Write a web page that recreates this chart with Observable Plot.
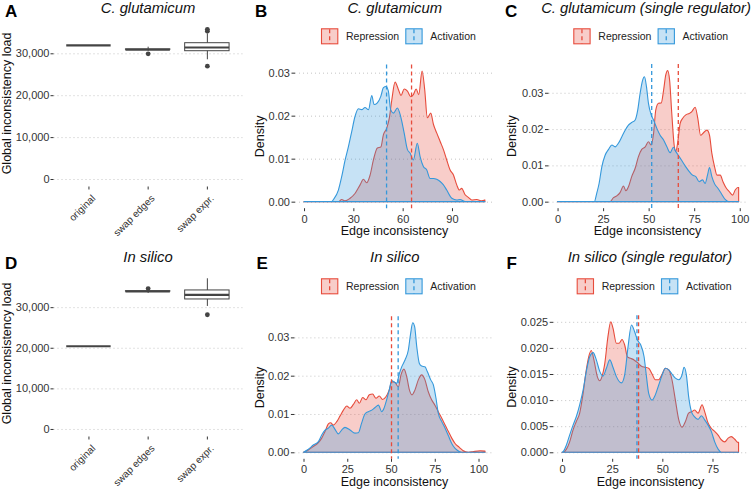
<!DOCTYPE html>
<html><head><meta charset="utf-8">
<script src="https://cdn.jsdelivr.net/npm/d3@7"></script>
<script src="https://cdn.jsdelivr.net/npm/@observablehq/plot@0.6"></script>
<style>
body{margin:0;background:#fff;}
#root{position:relative;width:752px;height:490px;overflow:hidden;background:#fff;}
.panel{position:absolute;}
#overlay{position:absolute;left:0;top:0;pointer-events:none;}
</style></head><body><div id="root"></div>
<script>
// ---------- data ----------
const boxCats = ["original", "swap edges", "swap expr."];
const A_q1  = [32000, 30950, 30620];
const A_med = [32000, 31000, 31500];
const A_q3  = [32000, 31050, 32530];
const A_lo  = [32000, 30600, 28570];
const A_hi  = [32000, 31580, 34770];
const A_out = [[2, 30000], [3, 35400], [3, 35850], [3, 27050]];

const D_q1  = [20500, 33950, 32020];
const D_med = [20500, 34000, 33170];
const D_q3  = [20500, 34050, 34240];
const D_lo  = [20500, 33500, 30300];
const D_hi  = [20500, 34100, 37110];
const D_out = [[2, 34700], [3, 28250]];

const B_act = [[0,0],[16.8,0],[17.9,.0005],[20.9,.0027],[22.9,.0058],[25.0,.0097],[27.0,.0128],[29.0,.0163],[31.0,.0198],[33.1,.0216],[35.1,.0214],[37.1,.0219],[39.2,.0214],[41.2,.0247],[42.6,.0226],[44.6,.0230],[46.7,.0245],[48.3,.0265],[49.9,.0268],[51.3,.0257],[52.7,.0214],[54.4,.0206],[56.8,.0218],[58.8,.0198],[60.9,.0160],[62.9,.0121],[64.5,.0113],[66.5,.0097],[68.9,.0136],[70.6,.0105],[72.6,.0082],[74.6,.0074],[76.7,.0054],[78.7,.0054],[80.7,.0052],[82.8,.0047],[84.8,.0039],[86.8,.0027],[89.9,.0008],[92.9,.0004],[94.9,.0005],[98.0,0],[110,0]];
const B_rep = [[0,0],[20.9,0],[22.9,.0005],[25.0,.0002],[28.0,.0008],[31.0,.0019],[34.1,.0039],[36.1,.0052],[38.1,.0044],[40.2,.0062],[42.2,.0097],[44.6,.0125],[46.7,.0127],[48.3,.0156],[50.3,.0171],[51.9,.0195],[53.4,.0237],[55.4,.0278],[57.4,.0261],[59.0,.0247],[60.9,.0262],[62.9,.0257],[64.9,.0244],[66.5,.0249],[68.2,.0262],[69.8,.0249],[71.8,.0304],[73.4,.0261],[75.0,.0195],[77.1,.0206],[78.7,.0180],[80.7,.0160],[82.8,.0140],[84.8,.0121],[86.8,.0097],[88.8,.0074],[90.9,.0062],[92.9,.0039],[94.5,.0027],[95.9,.0031],[98.0,.0016],[100.0,.0010],[102.0,.0004],[105.1,.0005],[108.1,.0002],[110,.0004]];

const C_act = [[0,0],[20.2,0],[21.5,.0023],[22.8,.0050],[24.3,.0096],[26.1,.0128],[28.0,.0144],[29.8,.0156],[31.6,.0151],[33.4,.0161],[35.3,.0179],[37.1,.0197],[38.9,.0211],[40.7,.0218],[42.6,.0225],[44.0,.0252],[45.3,.0298],[46.6,.0333],[47.7,.0344],[48.8,.0317],[49.9,.0271],[51.4,.0239],[52.7,.0225],[54.5,.0202],[56.3,.0183],[58.2,.0170],[60.0,.0151],[61.8,.0135],[63.6,.0150],[64.9,.0138],[66.8,.0124],[68.6,.0110],[70.4,.0096],[72.3,.0083],[74.1,.0073],[75.9,.0069],[77.7,.0055],[79.6,.0060],[81.0,.0050],[82.3,.0073],[83.4,.0094],[84.7,.0069],[86.2,.0049],[88.0,.0037],[89.8,.0023],[92.0,.0006],[93.9,0],[99.4,0]];
const C_rep = [[0,0],[28.8,0],[30.7,.0011],[32.5,.0016],[34.3,.0025],[36.2,.0043],[37.5,.0030],[38.9,.0041],[40.7,.0069],[42.6,.0092],[44.4,.0124],[46.2,.0144],[48.1,.0151],[49.9,.0165],[51.4,.0156],[52.7,.0188],[53.9,.0252],[55.4,.0271],[56.9,.0272],[58.2,.0307],[59.4,.0349],[60.4,.0361],[61.5,.0335],[62.7,.0243],[64.0,.0156],[64.9,.0138],[66.0,.0165],[67.3,.0216],[68.6,.0229],[70.4,.0239],[72.3,.0243],[73.7,.0248],[75.5,.0260],[77.0,.0229],[78.5,.0183],[80.1,.0190],[82.0,.0197],[83.4,.0183],[84.7,.0133],[86.2,.0096],[87.5,.0073],[89.3,.0073],[90.8,.0055],[92.4,.0039],[94.2,.0028],[96.1,.0018],[97.5,.0032],[99.0,.0039],[99.4,.0039]];

const E_act = [[0,0],[2.8,.0008],[5.6,.0019],[8.5,.0028],[10.4,.0045],[12.3,.0058],[14.2,.0063],[16.1,.0071],[18.0,.0060],[19.9,.0048],[21.8,.0058],[23.7,.0065],[26.6,.0058],[29.4,.0050],[31.3,.0051],[33.2,.0076],[35.1,.0100],[37.0,.0106],[39.0,.0110],[40.9,.0117],[42.8,.0123],[44.7,.0106],[46.0,.0115],[47.5,.0137],[49.0,.0163],[50.4,.0187],[51.7,.0184],[53.2,.0180],[54.8,.0206],[56.1,.0223],[58.0,.0241],[59.9,.0267],[61.2,.0310],[62.4,.0338],[63.5,.0328],[64.7,.0276],[66.2,.0232],[67.5,.0225],[69.4,.0223],[70.8,.0210],[72.7,.0189],[74.2,.0176],[75.7,.0141],[77.0,.0102],[79.0,.0080],[80.9,.0063],[82.8,.0043],[84.7,.0023],[86.6,.0010],[89.0,.0002],[90.4,0],[103.7,0]];
const E_rep = [[0,0],[2.8,.0006],[5.6,.0015],[8.5,.0025],[10.4,.0037],[12.3,.0054],[14.2,.0074],[15.5,.0077],[17.0,.0071],[19.0,.0080],[20.9,.0095],[22.8,.0110],[24.7,.0121],[26.6,.0115],[28.5,.0125],[30.4,.0137],[31.9,.0128],[33.8,.0143],[35.7,.0137],[37.6,.0150],[39.5,.0152],[41.4,.0141],[43.3,.0147],[45.2,.0138],[47.1,.0145],[49.0,.0163],[50.4,.0184],[52.3,.0182],[54.2,.0171],[55.7,.0202],[57.4,.0217],[59.0,.0197],[60.5,.0163],[62.0,.0150],[63.7,.0163],[65.6,.0189],[67.5,.0202],[69.4,.0189],[71.3,.0158],[73.2,.0137],[75.1,.0123],[77.0,.0106],[79.0,.0089],[80.9,.0071],[82.8,.0054],[84.7,.0037],[86.6,.0023],[89.0,.0013],[91.3,.0004],[94.2,0],[97.0,.0002],[100.9,.0004],[103.7,.0003]];

const F_act = [[0,0],[0.5,.0001],[2.2,.0014],[3.8,.0033],[5.5,.0052],[7.1,.0068],[8.8,.0091],[10.5,.0119],[12.1,.0155],[13.8,.0183],[15.5,.0191],[17.1,.0177],[18.8,.0155],[20.4,.0146],[22.1,.0161],[23.8,.0177],[25.4,.0163],[27.1,.0145],[29.6,.0133],[31.2,.0148],[32.9,.0202],[34.6,.0244],[36.2,.0231],[37.6,.0215],[39.2,.0206],[40.9,.0183],[42.0,.0148],[43.2,.0113],[44.9,.0100],[46.5,.0110],[48.2,.0129],[49.9,.0148],[51.5,.0161],[53.2,.0158],[54.8,.0150],[56.5,.0142],[58.2,.0139],[59.8,.0148],[60.8,.0163],[62.0,.0148],[63.1,.0107],[64.5,.0078],[66.1,.0068],[67.8,.0063],[69.5,.0070],[71.1,.0062],[72.8,.0052],[74.4,.0040],[76.1,.0020],[77.8,.0006],[79.4,0],[88,0]];
const F_rep = [[0,0],[0.5,0],[2.2,.0006],[3.8,.0020],[5.5,.0043],[7.1,.0059],[8.8,.0075],[10.5,.0113],[12.1,.0158],[13.3,.0183],[14.6,.0195],[15.9,.0177],[17.6,.0145],[18.8,.0137],[19.9,.0145],[21.3,.0170],[22.9,.0222],[24.3,.0250],[25.4,.0238],[27.1,.0209],[28.4,.0209],[29.9,.0216],[31.2,.0206],[32.6,.0183],[34.2,.0180],[35.9,.0177],[37.6,.0172],[39.6,.0165],[41.5,.0163],[43.2,.0161],[44.9,.0150],[46.5,.0139],[48.2,.0139],[49.9,.0150],[51.5,.0161],[53.2,.0158],[54.8,.0139],[56.5,.0100],[58.2,.0062],[59.8,.0048],[61.5,.0059],[63.1,.0075],[64.8,.0078],[66.1,.0081],[67.8,.0075],[69.8,.0091],[71.1,.0078],[72.8,.0056],[74.4,.0046],[76.1,.0040],[77.8,.0033],[79.4,.0024],[81.1,.0020],[82.8,.0027],[84.4,.0030],[86.1,.0025],[87.7,.0019],[88.0,.0019]];

// dashed vertical reference lines [Repression, Activation]
const B_means = [65.1, 49.9];
const C_means = [66.0, 51.4];
const E_means = [50.0, 53.8];
const F_means = [37.9, 37.1];

// ticks
const boxYTicks = [0, 10000, 20000, 30000];
const B_xTicks = [0, 30, 60, 90];
const C_xTicks = [0, 25, 50, 75, 100];
const E_xTicks = [0, 25, 50, 75, 100];
const F_xTicks = [0, 25, 50, 75];
const dens3Ticks = [0, 0.01, 0.02, 0.03];
const F_yTicks = [0, 0.005, 0.01, 0.015, 0.02, 0.025];

const titles = ["C. glutamicum", "C. glutamicum", "C. glutamicum (single regulator)", "In silico", "In silico", "In silico (single regulator)"];
const letters = ["A", "B", "C", "D", "E", "F"];
const seriesNames = ["Repression", "Activation"];

// ---------- drawing ----------
const FONT = '"Liberation Sans", Arial, Helvetica, sans-serif';
const RED = "#E74C3C", BLUE = "#3498DB", BOXC = "#444444", GRID = "#c4c4c4";
const root = document.getElementById("root");

function place(svg, left, top) {
  const d = document.createElement("div");
  d.className = "panel";
  d.style.left = left + "px"; d.style.top = top + "px";
  d.appendChild(svg); root.appendChild(d);
}
const baseStyle = {fontFamily: FONT, fontSize: "11px", color: "#333", background: "transparent", overflow: "visible"};
const toRec = a => a.map(([x, y]) => ({x, y}));

function densityPanel(g) {
  return Plot.plot({
    width: g.w, height: 245,
    marginLeft: g.ml, marginRight: g.mr, marginTop: g.mt, marginBottom: g.mb,
    style: baseStyle,
    x: {domain: g.xd, label: null},
    y: {domain: g.yd, label: null},
    marks: [
      Plot.gridY(g.yt, {stroke: GRID, strokeOpacity: 1, strokeWidth: 1, strokeDasharray: "1,3"}),
      Plot.areaY(toRec(g.rep), {x: "x", y: "y", fill: RED, fillOpacity: 0.28, stroke: RED, strokeWidth: 1.1, curve: "monotone-x"}),
      Plot.areaY(toRec(g.act), {x: "x", y: "y", fill: BLUE, fillOpacity: 0.28, stroke: BLUE, strokeWidth: 1.1, curve: "monotone-x"}),
      Plot.ruleX([g.means[0]], {stroke: RED, strokeWidth: 1.3, strokeDasharray: "4,3"}),
      Plot.ruleX([g.means[1]], {stroke: BLUE, strokeWidth: 1.3, strokeDasharray: "4,3"}),
      Plot.axisY(g.yt, {tickFormat: d3.format(g.yf), tickSize: 3.5, tickPadding: 2, label: null}),
      Plot.axisX(g.xt, {tickSize: 3, tickPadding: 3, label: null})
    ]
  });
}

const BOX_ML = 53.5, BOX_MR = 7.6, BOX_XD = [0.41, 3.6];
function boxPanel(g) {
  const stats = boxCats.map((c, i) => ({pos: i + 1, c, q1: g.q1[i], med: g.med[i], q3: g.q3[i], lo: g.lo[i], hi: g.hi[i]}));
  const outs = g.out.map(([p, v]) => ({pos: p, v}));
  return Plot.plot({
    width: 250, height: 245,
    marginLeft: BOX_ML, marginRight: BOX_MR, marginTop: g.mt, marginBottom: g.mb,
    style: baseStyle,
    x: {domain: BOX_XD, label: null},
    y: {domain: g.yd, label: null},
    marks: [
      Plot.gridY(boxYTicks, {stroke: GRID, strokeOpacity: 1, strokeWidth: 1, strokeDasharray: "1,3"}),
      Plot.ruleX(stats, {x: "pos", y1: "lo", y2: "hi", stroke: BOXC, strokeWidth: 1}),
      Plot.rect(stats, {x1: d => d.pos - 0.375, x2: d => d.pos + 0.375, y1: "q1", y2: "q3", fill: "white", stroke: BOXC, strokeWidth: 1}),
      Plot.ruleY(stats, {x1: d => d.pos - 0.375, x2: d => d.pos + 0.375, y: "med", stroke: BOXC, strokeWidth: 2.2}),
      Plot.dot(outs, {x: "pos", y: "v", r: 2.4, fill: BOXC, stroke: "none"}),
      Plot.axisY(boxYTicks, {tickFormat: d3.format(","), tickSize: 3, tickPadding: 1.5, label: null}),
      Plot.axisX([1, 2, 3], {tickFormat: () => "", tickSize: 3, tickPadding: 3, label: null})
    ]
  });
}

const A_svg = boxPanel({q1: A_q1, med: A_med, q3: A_q3, lo: A_lo, hi: A_hi, out: A_out, yd: [-1790, 37590], mt: 21.5, mb: 58.5});
const D_svg = boxPanel({q1: D_q1, med: D_med, q3: D_q3, lo: D_lo, hi: D_hi, out: D_out, yd: [-1855, 38955], mt: 25.8, mb: 53.5});
place(A_svg, 0, 0);
place(D_svg, 0, 245);
place(densityPanel({w: 250, ml: 45, mr: 6.1, mt: 64.5, mb: 36.8, xd: [-5.5, 115.5], yd: [-0.00152, 0.0319], rep: B_rep, act: B_act, means: B_means, xt: B_xTicks, yt: dens3Ticks, yf: ".2f"}), 250, 0);
place(densityPanel({w: 252, ml: 48.5, mr: 4.3, mt: 64.1, mb: 36.8, xd: [-4.97, 104.37], yd: [-0.0018, 0.0379], rep: C_rep, act: C_act, means: C_means, xt: C_xTicks, yt: dens3Ticks, yf: ".2f"}), 500, 0);
place(densityPanel({w: 250, ml: 44.4, mr: 5.9, mt: 71.3, mb: 31.2, xd: [-5.2, 108.9], yd: [-0.0017, 0.0355], rep: E_rep, act: E_act, means: E_means, xt: E_xTicks, yt: dens3Ticks, yf: ".2f"}), 250, 245);
place(densityPanel({w: 252, ml: 53.2, mr: 4.6, mt: 70.3, mb: 31.2, xd: [-4.4, 92.4], yd: [-0.00125, 0.02625], rep: F_rep, act: F_act, means: F_means, xt: F_xTicks, yt: F_yTicks, yf: ".3f"}), 500, 245);

// ---------- overlay text: titles, letters, axis titles, legends ----------
const ov = d3.select(root).append("svg").attr("id", "overlay").attr("width", 752).attr("height", 490)
  .style("font-family", FONT);
function T(x, y, s, o = {}) {
  const t = ov.append("text").attr("x", x).attr("y", y)
    .attr("text-anchor", o.anchor || "middle")
    .attr("font-size", o.size || 12.5)
    .attr("fill", o.fill || "#111").text(s);
  if (o.italic) t.attr("font-style", "italic");
  if (o.bold) t.attr("font-weight", "bold");
  if (o.rot) t.attr("transform", `rotate(-90 ${x} ${y})`);
  return t;
}
// rotated category labels, positioned with the box panels' own x scale
function catLabels(svg, top, mb) {
  const sx = svg.scale("x");
  const yBottom = top + 245 - mb;
  boxCats.forEach((c, i) => {
    const x = sx.apply(i + 1) + 2.5, y = yBottom + 7.5;
    ov.append("text").attr("transform", `translate(${x},${y}) rotate(-45)`)
      .attr("text-anchor", "end").attr("dy", "0.71em").attr("font-size", 10).attr("fill", "#333").text(c);
  });
}
catLabels(A_svg, 0, 58.5);
catLabels(D_svg, 245, 53.5);
// titles
[[148, 12.6], [394.7, 12.6], [646, 12.6], [148, 262.3], [394.7, 262.3], [650, 262.3]].forEach(([x, y], i) =>
  T(x, y, titles[i], {italic: true, size: 14.8}));
// panel letters
[[5, 16.8], [255, 16.8], [505, 16.8], [5, 268.6], [256.5, 268.6], [506.5, 268.6]].forEach(([x, y], i) =>
  T(x, y, letters[i], {anchor: "start", bold: true, size: 17, fill: "#000"}));
// y axis titles
T(10.7, 103.5, "Global inconsistency load", {rot: true});
T(10.7, 353.5, "Global inconsistency load", {rot: true});
T(264, 136.4, "Density", {rot: true});
T(516.3, 136.2, "Density", {rot: true});
T(264, 387.5, "Density", {rot: true});
T(516.3, 387, "Density", {rot: true});
// x axis titles
T(394.5, 235, "Edge inconsistency");
T(647.5, 235, "Edge inconsistency");
T(394.5, 486, "Edge inconsistency");
T(650.5, 486, "Edge inconsistency");
// legends
function legend(x0, y0) {
  [[RED, seriesNames[0], 0], [BLUE, seriesNames[1], 84.3]].forEach(([c, lab, dx]) => {
    ov.append("rect").attr("x", x0 + dx + 0.5).attr("y", y0 + 0.5).attr("width", 16.3).attr("height", 15)
      .attr("fill", c).attr("fill-opacity", 0.28).attr("stroke", c).attr("stroke-width", 1.1);
    ov.append("line").attr("x1", x0 + dx + 8.65).attr("x2", x0 + dx + 8.65).attr("y1", y0 + 1).attr("y2", y0 + 15.5)
      .attr("stroke", c).attr("stroke-width", 1.3).attr("stroke-dasharray", "4,3");
    T(x0 + dx + 25, y0 + 11.8, lab, {anchor: "start", size: 10.5, fill: "#222"});
  });
}
legend(321, 28.3);
legend(573.3, 28.3);
legend(321, 278.3);
legend(576.7, 278.3);
</script></body></html>
